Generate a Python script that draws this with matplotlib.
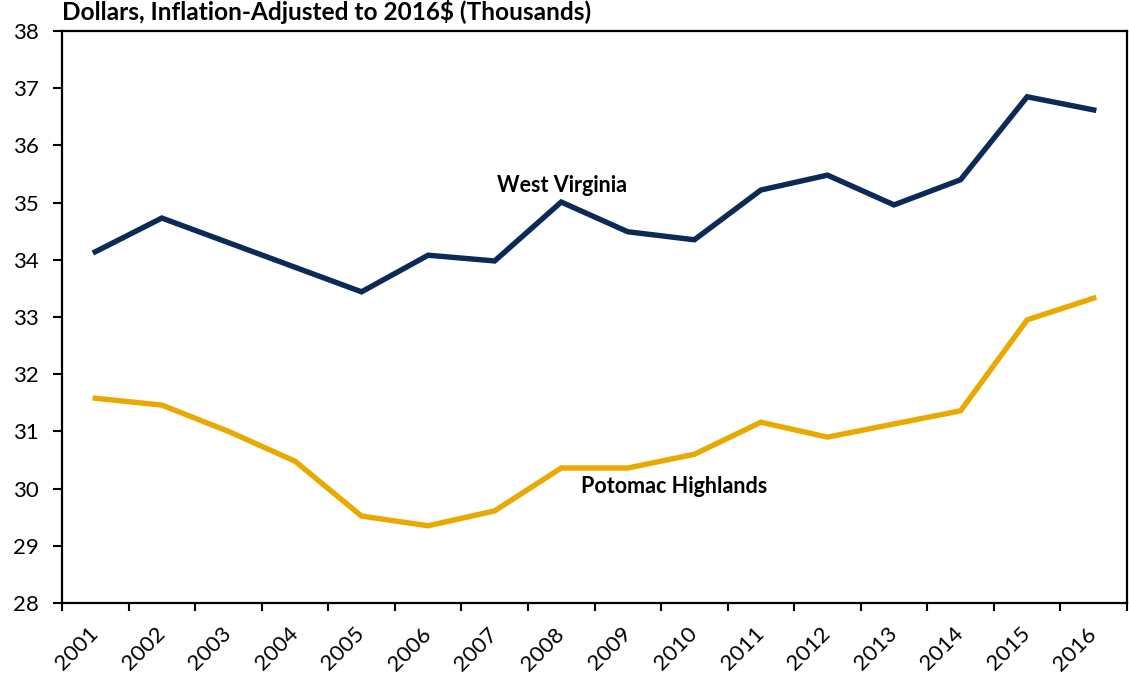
import matplotlib
matplotlib.use("Agg")
import matplotlib.pyplot as plt
import numpy as np

years = ["2001", "2002", "2003", "2004", "2005", "2006", "2007", "2008",
         "2009", "2010", "2011", "2012", "2013", "2014", "2015", "2016"]
west_virginia = [34.14, 34.73, 34.30, 33.87, 33.44, 34.08, 33.98, 35.01,
                 34.49, 34.35, 35.22, 35.48, 34.96, 35.40, 36.85, 36.62]
potomac_highlands = [31.58, 31.46, 31.00, 30.48, 29.52, 29.35, 29.61, 30.36,
                     30.36, 30.60, 31.16, 30.90, 31.13, 31.36, 32.95, 33.33]

plt.rcParams['font.family'] = ['Lato', 'DejaVu Sans']

fig = plt.figure(figsize=(11.29, 6.77), dpi=100)
ax = fig.add_axes([62/1129, 1 - 603/677, (1127-62)/1129, (603-31)/677])

x = np.arange(len(years)) + 0.5
ax.plot(x, west_virginia, color="#0b2a55", lw=3.9, solid_joinstyle='miter')
ax.plot(x, potomac_highlands, color="#e8aa00", lw=3.9, solid_joinstyle='miter')

ax.set_xlim(0, len(years))
ax.set_ylim(28, 38)
ax.set_yticks(range(28, 39))
ax.set_yticklabels([str(v) for v in range(28, 39)], fontsize=16)
ax.set_xticks(np.arange(len(years) + 1))
ax.set_xticklabels([])
ax.set_xticks(x, minor=True)
ax.set_xticklabels(years, minor=True, rotation=45, ha='right', va='center',
                   rotation_mode='anchor', fontsize=16)
ax.tick_params(axis='x', which='minor', length=0, pad=20)
ax.tick_params(axis='x', which='major', direction='out', length=6, width=1.5)
ax.tick_params(axis='y', direction='out', length=6.5, width=1.5, pad=10)
for s in ax.spines.values():
    s.set_linewidth(1.6)

ax.text(7.51, 35.3, "West Virginia", fontsize=15.5, fontweight='bold',
        ha='center', va='center')
ax.text(9.2, 30.03, "Potomac Highlands", fontsize=15.5, fontweight='bold',
        ha='center', va='center')

fig.text(62/1129, 1 - 12/677, "Dollars, Inflation-Adjusted to 2016$ (Thousands)",
         fontsize=17.6, fontweight='bold', ha='left', va='center')

fig.savefig("out.png", dpi=100)
